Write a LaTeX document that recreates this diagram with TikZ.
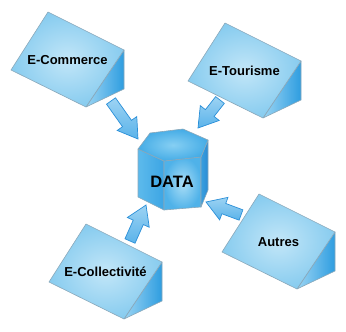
\documentclass[tikz,border=0pt]{standalone}
\usepackage{fontspec}
\setmainfont{Liberation Sans}
\usetikzlibrary{calc}
\definecolor{edgec}{HTML}{8AA8BA}
\definecolor{faceIn}{HTML}{C2E6F8}
\definecolor{faceOut}{HTML}{88CCEF}
\definecolor{sideL}{HTML}{9AD4F3}
\definecolor{sideR}{HTML}{2E9DE0}
\definecolor{arrIn}{HTML}{9DD3F3}
\definecolor{arrOut}{HTML}{5AB3EA}
\definecolor{arrEdge}{HTML}{2A8FD8}
\definecolor{hexTopIn}{HTML}{86CFF3}
\definecolor{hexTopOut}{HTML}{45ACE6}
\definecolor{hexLeftA}{HTML}{5DBAEC}
\definecolor{hexLeftB}{HTML}{3CA5E4}
\definecolor{hexFrontIn}{HTML}{A9DDF6}
\definecolor{hexFrontOut}{HTML}{4FB2E9}
\definecolor{hexRightA}{HTML}{3A9FDF}
\definecolor{hexRightB}{HTML}{2A8CD4}
\tikzset{
  edge/.style={draw=edgec, line width=0.6pt, line join=round},
  frontface/.style={edge, inner color=faceIn, outer color=faceOut},
  sideface/.style={edge, left color=sideL, right color=sideR},
  barrow/.style={draw=arrEdge, line width=0.7pt, line join=miter, top color=arrIn, bottom color=arrOut},
  lbl/.style={font=\bfseries\fontsize{13}{15}\selectfont, text=black, inner sep=0pt},
  datalbl/.style={font=\bfseries\fontsize{16.5}{19}\selectfont, text=black, inner sep=0pt},
}
\newcommand\prismbox[4]{%
  \coordinate (#1T) at (#2,#3);
  \coordinate (#1R) at ($(#1T)+(76,38)$);
  \coordinate (#1B) at ($(#1T)+(38,95)$);
  \coordinate (#1L) at ($(#1T)+(-37,58)$);
  \coordinate (#1RB) at ($(#1R)+(0,39)$);
  \shadedraw[sideface] (#1R) -- (#1RB) -- (#1B) -- cycle;
  \shadedraw[frontface] (#1T) -- (#1R) -- (#1B) -- (#1L) -- cycle;
  \node[lbl] (#1) at ($(#1T)+(19.5,48)$) {#4};
}
\newcommand\blockarrow[3]{% #1 name, #2 tail, #3 tip
  \coordinate (#1t) at #2;
  \coordinate (#1h) at #3;
  \coordinate (#1b) at ($(#1h)!19pt!(#1t)$);
  \shadedraw[barrow] ($(#1t)!5.5pt!90:(#1h)$) -- ($(#1b)!5.5pt!-90:(#1t)$)
     -- ($(#1b)!12pt!-90:(#1t)$) -- (#1h) -- ($(#1b)!12pt!90:(#1t)$)
     -- ($(#1b)!5.5pt!90:(#1t)$) -- ($(#1t)!5.5pt!-90:(#1h)$) -- cycle;
}
\begin{document}
\begin{tikzpicture}[x=1pt,y=-1pt]
\useasboundingbox (0,0) rectangle (346,332);
% hexagonal prism
\coordinate (h1) at (138,149);
\coordinate (h2) at (150,133);
\coordinate (h3) at (183,129);
\coordinate (h4) at (208,140);
\coordinate (h5) at (201,157);
\coordinate (h6) at (164,161);
\coordinate (g1) at (138,197);
\coordinate (g6) at (164,210);
\coordinate (g5) at (201,207);
\coordinate (g4) at (208,190);
\shadedraw[edge, left color=hexLeftA, right color=hexLeftB] (h1) -- (h6) -- (g6) -- (g1) -- cycle;
\shadedraw[edge, inner color=hexFrontIn, outer color=hexFrontOut] (h6) -- (h5) -- (g5) -- (g6) -- cycle;
\shadedraw[edge, left color=hexRightA, right color=hexRightB] (h5) -- (h4) -- (g4) -- (g5) -- cycle;
\shadedraw[edge, inner color=hexTopIn, outer color=hexTopOut] (h1) -- (h2) -- (h3) -- (h4) -- (h5) -- (h6) -- cycle;
\node[datalbl] (data) at (172,182) {DATA};
% arrows
\blockarrow{a1}{(111,101)}{(138,139)}
\blockarrow{a2}{(220,100)}{(198,128)}
\blockarrow{a3}{(130,241)}{(146,205)}
\blockarrow{a4}{(241,215)}{(206,202)}
% prisms
\prismbox{ecom}{48}{12}{E-Commerce}
\prismbox{etour}{225}{23}{E-Tourisme}
\prismbox{ecoll}{86}{224}{E-Collectivité}
\prismbox{autres}{259}{194}{Autres}
\end{tikzpicture}
\end{document}
